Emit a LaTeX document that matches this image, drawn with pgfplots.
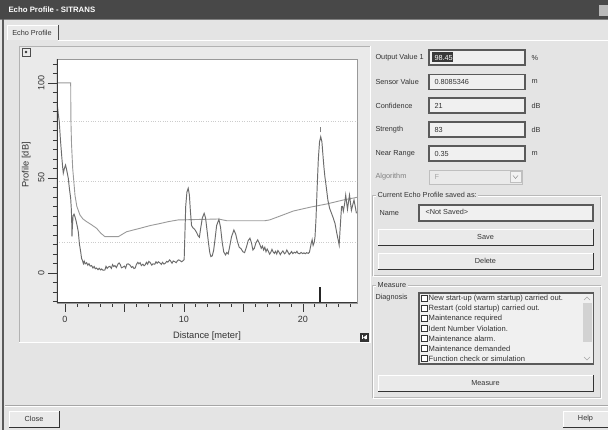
\documentclass[border=0pt]{standalone}
\usepackage{pgfplots}
\pgfplotsset{compat=1.18}
\usepackage{fontspec}
\setmainfont{Liberation Sans}

\definecolor{winbg}{HTML}{E4E4E4}
\definecolor{panelbg}{HTML}{EAEAEA}
\definecolor{titlebar}{HTML}{484848}
\definecolor{ink}{HTML}{333333}
\definecolor{edge}{HTML}{5A5A5A}
\definecolor{echo}{HTML}{6C6C6C}
\definecolor{tvt}{HTML}{9A9A9A}
\definecolor{fieldbg}{HTML}{F0F0F0}

\newcommand{\ui}{\fontsize{7.3}{8.5}\selectfont}
% button: x1,y1,x2,y2,text (y downwards)
\newcommand{\button}[5]{%
  \fill[panelbg] (#1,#2) rectangle (#3,#4);
  \draw[white] (#1,#4) -- (#1,#2) -- (#3,#2);
  \draw[gray!40!black, line width=0.9pt] (#1,#4) -- (#3,#4) -- (#3,#2);
  \node[font=\ui, text=ink] at ({(#1+#3)/2},{(#2+#4)/2}) {#5};}
% text field
\newcommand{\field}[4]{%
  \draw[edge, line width=1.1pt, fill=fieldbg] (#1,#2) rectangle (#3,#4);}

\begin{document}
\begin{tikzpicture}[x=1pt,y=1pt]
\useasboundingbox (0,0) rectangle (608,430);

\begin{scope}[shift={(0,430)}, yscale=-1]
  % window
  \fill[winbg] (0,0) rectangle (608,430);
  \fill[titlebar] (0,0) rectangle (608,19);
  \draw[gray] (0,19.5) -- (608,19.5);
  \node[anchor=west, text=white, font=\bfseries\fontsize{7.8}{9}\selectfont] at (5,10) {Echo Profile - SITRANS};
  \fill[gray!55] (599,5) rectangle (608,16);
  \draw[edge, line width=1.2pt] (3,19) -- (3,430);
  % tab
  \fill[panelbg] (7,25) rectangle (58,40);
  \draw[white] (7,40) -- (7,25) -- (58,25);
  \draw[gray!60!black] (58,25) -- (58,40);
  \node[font=\ui, text=ink] at (32,33) {Echo Profile};
  \draw[white] (58,40.5) -- (608,40.5);
  % chart panel
  \fill[panelbg] (19,46) rectangle (370,342);
  \draw[gray!60] (19,342) -- (19,46) -- (370,46);
  \draw[white] (19,342) -- (370,342) -- (370,46);
  \draw[gray!60!black, fill=panelbg] (22,48) rectangle (30,56);
  \fill[ink] (26,52) circle (1.3);
  \fill[black!80] (360,333) rectangle (369,342);
  \fill[white] (362,335.5) rectangle (363.2,339.5);
  \fill[white] (366,335.5) rectangle (367.2,339.5);
  \fill[white] (363.2,337.5) -- (366,335.5) -- (366,339.5) -- cycle;
  % bottom separator and buttons
  \draw[gray!70] (5,405) -- (608,405);
  \draw[white] (5,406) -- (608,406);
  \button{9}{411}{59}{427}{Close}
  \button{563}{411}{608}{427}{Help}

  % right panel: values
  \foreach \lab/\val/\unit/\y in {Sensor Value/0.8085346/m/82, Confidence/21/dB/105.5, Strength/83/dB/129.5, Near Range/0.35/m/153.5}{
    \node[anchor=west, font=\ui, text=ink] at (372,\y) {\lab};
    \field{429}{\y-7.5}{525}{\y+7.5}
    \node[anchor=west, font=\ui, text=ink] at (431,\y) {\val};
    \node[anchor=west, font=\ui, text=ink] at (528,\y) {\unit};
  }
  \node[anchor=west, font=\ui, text=ink] at (372,57.5) {Output Value 1};
  \field{429}{50}{525}{65}
  \fill[gray!45!black] (432,52.5) rectangle (453,62.5);
  \node[anchor=west, font=\ui, text=white] at (431,57.5) {98.45};
  \node[anchor=west, font=\ui, text=ink] at (528,57.5) {\%};
  % algorithm (disabled)
  \node[anchor=west, font=\ui, text=gray] at (372,177) {Algorithm};
  \draw[gray!50, fill=panelbg] (429,170) rectangle (522,184);
  \node[anchor=west, font=\ui, text=gray!70] at (431,177) {F};
  \draw[gray!50, fill=gray!10] (510,171.5) rectangle (521,182.5);
  \draw[gray] (513,175.5) -- (515.5,178.5) -- (518,175.5);

  % group: saved as
  \draw[gray!55] (372,195) rectangle (600,275);
  \draw[white] (373,196) rectangle (601,276);
  \node[anchor=west, font=\ui, text=ink, fill=winbg, inner sep=1.5pt] at (376,195) {Current Echo Profile saved as:};
  \node[anchor=west, font=\ui, text=ink] at (376,213) {Name};
  \field{419}{205}{593}{221}
  \node[anchor=west, font=\ui, text=ink] at (422,212) {<Not Saved>};
  \button{378}{229}{593}{245}{Save}
  \button{378}{253}{593}{269}{Delete}

  % group: measure
  \draw[gray!55] (372,285) rectangle (600,397);
  \draw[white] (373,286) rectangle (601,398);
  \node[anchor=west, font=\ui, text=ink, fill=winbg, inner sep=1.5pt] at (376,285) {Measure};
  \node[anchor=west, font=\ui, text=ink] at (372,298) {Diagnosis};
  \field{419}{293}{593}{364}
  \fill[gray!12] (582,294) rectangle (592.5,363);
  \fill[gray!35] (583,303) rectangle (591.5,342);
  \draw[gray!70] (584,300) -- (587,297) -- (590,300);
  \draw[gray!70] (584,357) -- (587,360) -- (590,357);
  \foreach \t [count=\i] in {New start-up (warm startup) carried out., Restart (cold startup) carried out., Maintenance required, Ident Number Violation., Maintenance alarm., Maintenance demanded, Function check or simulation}{
    \draw[gray!40!black, fill=white] (421.5,{285.5+10*\i}) rectangle (427.5,{291.5+10*\i});
    \node[anchor=west, font=\fontsize{7.6}{8.5}\selectfont, text=ink, inner sep=0pt] at (428.5,{288.5+10*\i}) {\t};
  }
  \button{378}{375}{593}{391}{Measure}
\end{scope}

\begin{axis}[
  at={(57pt,127pt)}, anchor=south west,
  width=300pt, height=244pt, scale only axis,
  xmin=-0.67, xmax=24.55, ymin=-15.8, ymax=112.6,
  axis background/.style={fill=white},
  axis line style={draw=gray!80},
  tick align=outside, xtick pos=bottom, ytick pos=left,
  xtick={0,5,10,15,20}, xticklabels={0,,10,,20},
  minor xtick={-0,1,...,24},
  ytick={0,50,100},
  minor ytick={-15,-10,...,110},
  major tick length=9pt, minor tick length=4pt,
  every tick/.style={draw=gray!45!black, line width=0.7pt},
  extra y ticks={16,48,80}, extra y tick labels={},
  extra y tick style={grid=major, major tick length=0pt,
    grid style={dotted, line width=0.7pt, gray!40}},
  yticklabel style={rotate=90, anchor=south},
  xticklabel style={yshift=-1pt},
  /pgf/number format/assume math mode=true,
  tick label style={font=\fontsize{9}{10}\selectfont, text=ink},
  label style={font=\fontsize{9.3}{10}\selectfont, text=ink},
  xlabel={Distance [meter]},
  ylabel={Profile [dB]},
  xlabel style={at={(axis description cs:0.5,-0.135)}, anchor=center},
  ylabel style={at={(axis description cs:-0.103,0.566)}, anchor=center},
  clip=true,
]
% time varying threshold
\addplot[tvt, line width=0.9pt] coordinates {
(-0.67,100) (0.48,100) (0.5,80) (0.55,68) (0.65,55) (0.84,41) (1.0,35)
(1.26,30.5) (1.5,28.5) (1.82,27) (2.2,25.5) (2.66,23.5) (3.0,21) (3.36,19.1)
(4.48,19.1) (5.18,21.7) (6.3,23.5) (7.2,25) (7.98,26) (8.68,27) (9.5,27.9)
(12.9,28.4) (13.6,27.5) (16.8,27.5) (17.2,27.9) (18.1,30) (19.2,32.6)
(20.6,34.6) (22.0,36.3) (23.4,38.4) (24.55,39.8)
};
% echo profile
\addplot[echo, line width=0.95pt] coordinates {
(-0.65,88.8) (-0.6,86) (-0.55,83) (-0.48,79.6) (-0.38,70) (-0.28,62) (-0.2,56)
(-0.14,52.5) (-0.05,55) (0.05,56.8) (0.15,54) (0.28,49.8) (0.38,44) (0.48,39.3)
(0.54,33) (0.57,26) (0.59,19.1) (0.62,24) (0.68,30) (0.76,31) (0.84,29.6)
(0.95,27) (1.05,24) (1.12,21.7) (1.22,15) (1.32,11.2) (1.4,7.5) (1.46,6.8)
(1.55,4.9) (1.62,6.2) (1.7,4.8) (1.82,5.4) (1.92,4.1) (2.02,4.9) (2.12,3.6)
(2.24,3.9) (2.35,2.6) (2.45,3.4) (2.55,2.2) (2.66,2.6) (2.78,1.7) (2.88,2.5)
(3.0,1.6) (3.08,2.1) (3.2,1.4) (3.36,1.6) (3.45,3.5) (3.55,2.4) (3.66,3.2)
(3.78,3.5) (3.9,2.4) (4.0,4.4) (4.1,3.4) (4.2,3.9) (4.32,2.8) (4.45,4.6)
(4.55,5.3) (4.65,4.4) (4.75,2.7) (4.88,3.1) (5.0,3.6) (5.1,2.5) (5.2,4.6)
(5.32,4.8) (5.46,4.2) (5.6,2.9) (5.7,3.4) (5.8,2.3) (5.9,2.6) (6.0,4.4)
(6.12,5.6) (6.22,4.8) (6.32,5.4) (6.42,3.9) (6.55,4.6) (6.65,3.8) (6.75,4.3)
(6.85,5.6) (6.95,4.6) (7.05,6.1) (7.15,5.6) (7.3,4.1) (7.4,4.8) (7.55,4.6)
(7.65,5.9) (7.75,5.1) (7.85,5.9) (8.0,5.2) (8.1,4.5) (8.2,5.6) (8.32,4.7)
(8.45,5.2) (8.55,6.1) (8.65,5.7) (8.8,6.9) (8.9,6.1) (9.0,5.1) (9.1,6.3)
(9.24,5.9) (9.35,5.4) (9.45,6.4) (9.55,6.9) (9.66,6.6) (9.8,5.9) (9.94,6.5)
(10.02,7) (10.08,20) (10.15,35) (10.25,42.5) (10.36,44.6) (10.46,41)
(10.54,33) (10.64,25) (10.75,23.8) (10.9,23) (11.05,21.5) (11.2,19.5)
(11.3,18.8) (11.42,24) (11.55,29) (11.7,31.4) (11.82,29) (11.95,22)
(12.08,15) (12.18,10.5) (12.27,8.6) (12.38,9) (12.5,12) (12.62,18) (12.75,25)
(12.94,28.2) (13.08,24) (13.22,16) (13.35,11) (13.5,9.5) (13.6,10.8)
(13.72,10) (13.85,14) (14.0,19) (14.2,22.6) (14.35,20.5) (14.5,16.5)
(14.65,13.5) (14.8,12.8) (14.95,11.2) (15.1,10.7) (15.25,13.5) (15.4,17)
(15.55,18.3) (15.68,15.8) (15.8,12.1) (15.92,13) (16.05,15.8) (16.2,17.4)
(16.35,15.5) (16.5,13) (16.6,14.2) (16.7,12.1) (16.8,13.5) (16.9,11.2)
(17.0,12.6) (17.1,11.4) (17.2,9.9) (17.3,10.8) (17.4,12.4) (17.5,11.1)
(17.6,10.3) (17.7,11.4) (17.8,10) (17.9,11.8) (18.0,10.9) (18.1,9.6)
(18.2,10.7) (18.32,11.6) (18.45,10.1) (18.55,10.6) (18.65,12.1) (18.75,10.9)
(18.85,9.7) (18.95,10.4) (19.05,11.3) (19.15,10.2) (19.28,10.9) (19.4,10.5)
(19.5,11.4) (19.6,10.3) (19.72,10.1) (19.85,10.8) (19.98,10.2) (20.1,10.6)
(20.2,10.1) (20.32,10.7) (20.45,10.3) (20.55,10.9) (20.62,13) (20.7,15.6)
(20.78,17.5) (20.86,14.5) (20.95,16) (21.02,19) (21.1,28) (21.2,45) (21.3,60)
(21.4,69) (21.5,71.7) (21.6,69) (21.7,61) (21.78,55) (21.85,50.7) (21.95,46)
(22.1,38.4) (22.25,34) (22.4,31.5) (22.55,29) (22.7,26.1) (22.85,21)
(22.98,17) (23.05,14.7) (23.12,22) (23.2,30) (23.25,34.9) (23.33,35)
(23.4,32.5) (23.5,36) (23.6,41) (23.68,37) (23.75,33.5) (23.85,38) (23.92,41)
(24.0,37) (24.08,33) (24.2,36) (24.3,38.4) (24.4,35) (24.5,31.4)
};
% echo marker and peak tick
\addplot[black!85, line width=1.3pt] coordinates {(21.45,-7.5) (21.45,-15.8)};
\addplot[gray, line width=0.6pt] coordinates {(21.5,74) (21.5,77)};
\draw[gray!45!black, line width=1.6pt] (rel axis cs:0,1) -- (rel axis cs:0,0) -- (rel axis cs:1,0);
\end{axis}
\end{tikzpicture}
\end{document}
